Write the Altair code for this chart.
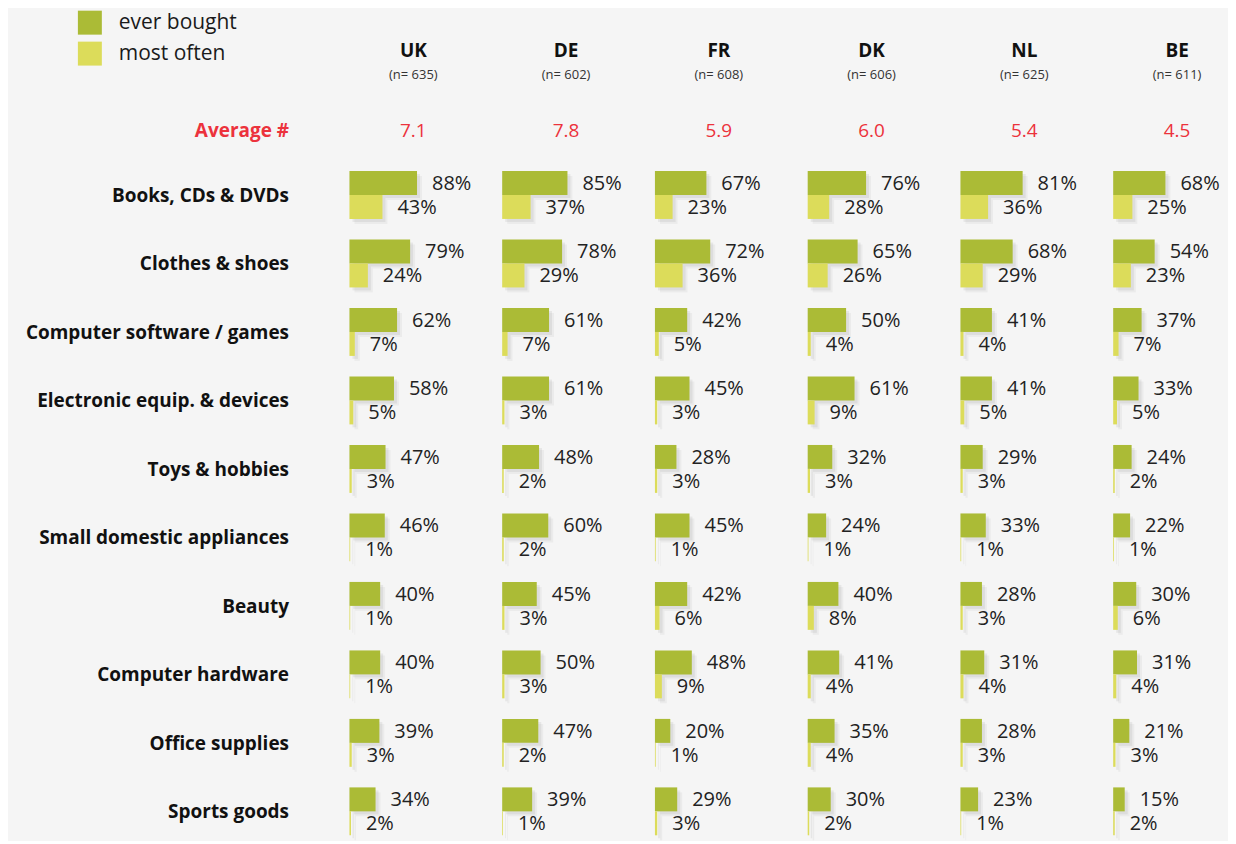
import altair as alt
import pandas as pd

countries = ["UK", "DE", "FR", "DK", "NL", "BE"]
sample_sizes = [635, 602, 608, 606, 625, 611]
averages = ["7.1", "7.8", "5.9", "6.0", "5.4", "4.5"]
categories = [
    "Books, CDs & DVDs",
    "Clothes & shoes",
    "Computer software / games",
    "Electronic equip. & devices",
    "Toys & hobbies",
    "Small domestic appliances",
    "Beauty",
    "Computer hardware",
    "Office supplies",
    "Sports goods",
]
series = ["ever bought", "most often"]

ever_bought_uk = [88, 79, 62, 58, 47, 46, 40, 40, 39, 34]
ever_bought_de = [85, 78, 61, 61, 48, 60, 45, 50, 47, 39]
ever_bought_fr = [67, 72, 42, 45, 28, 45, 42, 48, 20, 29]
ever_bought_dk = [76, 65, 50, 61, 32, 24, 40, 41, 35, 30]
ever_bought_nl = [81, 68, 41, 41, 29, 33, 28, 31, 28, 23]
ever_bought_be = [68, 54, 37, 33, 24, 22, 30, 31, 21, 15]

most_often_uk = [43, 24, 7, 5, 3, 1, 1, 1, 3, 2]
most_often_de = [37, 29, 7, 3, 2, 2, 3, 3, 2, 1]
most_often_fr = [23, 36, 5, 3, 3, 1, 6, 9, 1, 3]
most_often_dk = [28, 26, 4, 9, 3, 1, 8, 4, 4, 2]
most_often_nl = [36, 29, 4, 5, 3, 1, 3, 4, 3, 1]
most_often_be = [25, 23, 7, 5, 2, 1, 6, 4, 3, 2]

ever_bought = [ever_bought_uk, ever_bought_de, ever_bought_fr,
               ever_bought_dk, ever_bought_nl, ever_bought_be]
most_often = [most_often_uk, most_often_de, most_often_fr,
              most_often_dk, most_often_nl, most_often_be]

GREEN = "#abbb36"
YELLOW = "#dcdc5a"
RED = "#ec323c"
TEXT = "#222222"
FONT = "Open Sans"

rows = []
for ci, c in enumerate(countries):
    for k, cat in enumerate(categories):
        rows.append({"country": c, "category": cat, "series": series[0],
                     "value": ever_bought[ci][k], "label": f"{ever_bought[ci][k]}%"})
        rows.append({"country": c, "category": cat, "series": series[1],
                     "value": most_often[ci][k], "label": f"{most_often[ci][k]}%"})
df = pd.DataFrame(rows)

y_domain = ["Average #"] + categories
PANEL_W = 110
PANEL_H = 734
X_MAX = 143

color_scale = alt.Scale(domain=series, range=[GREEN, YELLOW])


def panel(ci, c):
    d = df[df.country == c]
    if ci == 0:
        yaxis = alt.Axis(
            title=None, ticks=False, domain=False, labelPadding=61,
            labelFontSize=19, labelFontWeight="bold", labelLimit=400,
            labelFont=FONT,
            labelOffset=alt.condition("datum.value == 'Average #'",
                                      alt.value(5), alt.value(1)),
            labelColor=alt.condition("datum.value == 'Average #'",
                                     alt.value(RED), alt.value("#111111")),
        )
    else:
        yaxis = None
    y = alt.Y("category:N", scale=alt.Scale(domain=y_domain, paddingInner=0.3,
                                            paddingOuter=0), axis=yaxis)
    x = alt.X("value:Q", scale=alt.Scale(domain=[0, X_MAX]), axis=None)

    green = alt.Chart(d).transform_filter(alt.datum.series == series[0])
    yellow = alt.Chart(d).transform_filter(alt.datum.series == series[1])

    layers = []
    for shift, op in ((5, 0.04), (3, 0.06)):
        for base, off in ((green, -12), (yellow, 12)):
            layers.append(base.mark_bar(height=24, yOffset=off + shift,
                                        xOffset=shift, color="#000000",
                                        opacity=op)
                          .encode(x=x, y=y))
    for base, off in ((green, -12), (yellow, 12)):
        layers.append(base.mark_bar(height=24, yOffset=off)
                      .encode(x=x, y=y,
                              color=alt.Color("series:N", scale=color_scale,
                                              legend=alt.Legend(title=None))))
    for base, off in ((green, -11), (yellow, 13)):
        layers.append(base.mark_text(align="left", baseline="middle", dx=15,
                                     dy=off, fontSize=20, color=TEXT)
                      .encode(x=x, y=y, text="label:N"))

    avg_df = pd.DataFrame({"category": ["Average #"], "avg": [averages[ci]]})
    layers.append(alt.Chart(avg_df).mark_text(align="center", baseline="middle",
                                              dy=5, fontSize=19, color=RED)
                  .encode(x=alt.value(64), y=y, text="avg:N"))

    return alt.layer(*layers).properties(
        width=PANEL_W, height=PANEL_H,
        title=alt.TitleParams(text=c, subtitle=f"(n= {sample_sizes[ci]})",
                              fontSize=19, fontWeight="bold", color="#111111",
                              subtitleFontSize=13, subtitleColor="#333333",
                              subtitlePadding=8, offset=21, anchor="middle",
                              dx=9, font=FONT, subtitleFont=FONT),
    )


chart = alt.hconcat(*[panel(i, c) for i, c in enumerate(countries)],
                    spacing=43, bounds="flush").resolve_scale(color="shared")

chart = chart.properties(
    background="#f5f5f5",
    padding={"left": 17, "top": 2, "right": 5, "bottom": 0},
).configure(font=FONT).configure_view(stroke=None).configure_legend(
    orient="none", legendX=-272, legendY=-92, direction="vertical",
    symbolType="square", symbolSize=576, symbolStrokeWidth=0,
    symbolOpacity=1, labelFontSize=21, labelColor="#1a1a1a",
    labelOffset=17, rowPadding=7, labelFont=FONT,
)

chart.save("out.html", embed_options={"renderer": "svg", "actions": False})
